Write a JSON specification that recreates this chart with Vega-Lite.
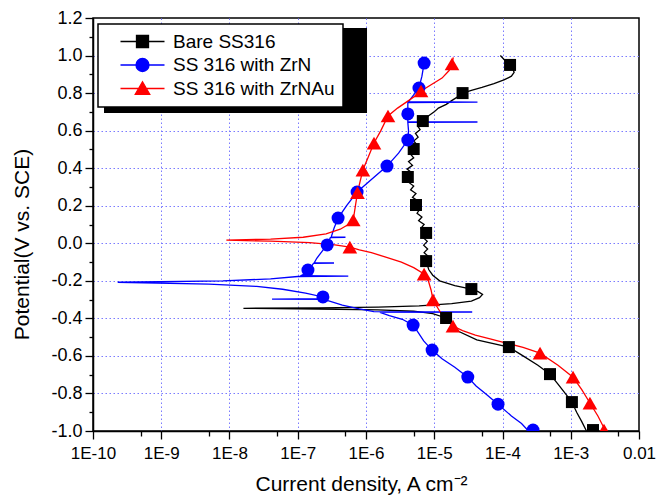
{
  "$schema": "https://vega.github.io/schema/vega-lite/v6.json",
  "width": 546,
  "height": 413,
  "autosize": {"type": "none"},
  "padding": {"left": 93, "top": 18, "right": 31, "bottom": 65},
  "background": "white",
  "config": {
    "view": {"stroke": "black", "strokeWidth": 1.5},
    "font": "Liberation Sans",
    "axis": {
      "domainColor": "black", "domainWidth": 1.5,
      "tickColor": "black", "tickWidth": 1.3,
      "labelFont": "Liberation Sans", "labelFontSize": 17, "labelColor": "black",
      "titleFont": "Liberation Sans", "titleFontSize": 21, "titleFontWeight": "normal", "titleColor": "black",
      "gridColor": "#7b7bff", "gridDash": [1.5, 2.5], "gridWidth": 1,
      "labelOverlap": false, "labelFlush": false
    }
  },
  "resolve": {"axis": {"y": "independent"}},
  "datasets": {
    "curves": [
      {"series": "Bare SS316", "potential": -1.000, "current": 1.70e-3},
      {"series": "Bare SS316", "potential": -0.950, "current": 1.45e-3},
      {"series": "Bare SS316", "potential": -0.900, "current": 1.22e-3},
      {"series": "Bare SS316", "potential": -0.846, "current": 1.04e-3},
      {"series": "Bare SS316", "potential": -0.800, "current": 8.3e-4},
      {"series": "Bare SS316", "potential": -0.750, "current": 6.5e-4},
      {"series": "Bare SS316", "potential": -0.697, "current": 4.97e-4},
      {"series": "Bare SS316", "potential": -0.650, "current": 3.3e-4},
      {"series": "Bare SS316", "potential": -0.600, "current": 2.0e-4},
      {"series": "Bare SS316", "potential": -0.553, "current": 1.24e-4},
      {"series": "Bare SS316", "potential": -0.515, "current": 4.2e-5},
      {"series": "Bare SS316", "potential": -0.470, "current": 2.3e-5},
      {"series": "Bare SS316", "potential": -0.430, "current": 1.8e-5},
      {"series": "Bare SS316", "potential": -0.398, "current": 1.49e-5},
      {"series": "Bare SS316", "potential": -0.375, "current": 9.5e-6},
      {"series": "Bare SS316", "potential": -0.362, "current": 5.0e-6},
      {"series": "Bare SS316", "potential": -0.355, "current": 1.5e-6},
      {"series": "Bare SS316", "potential": -0.350, "current": 2.0e-7},
      {"series": "Bare SS316", "potential": -0.3465, "current": 1.6e-8},
      {"series": "Bare SS316", "potential": -0.344, "current": 2.0e-7},
      {"series": "Bare SS316", "potential": -0.340, "current": 1.5e-6},
      {"series": "Bare SS316", "potential": -0.333, "current": 6.0e-6},
      {"series": "Bare SS316", "potential": -0.322, "current": 1.8e-5},
      {"series": "Bare SS316", "potential": -0.308, "current": 3.5e-5},
      {"series": "Bare SS316", "potential": -0.290, "current": 4.6e-5},
      {"series": "Bare SS316", "potential": -0.272, "current": 5.1e-5},
      {"series": "Bare SS316", "potential": -0.258, "current": 4.4e-5},
      {"series": "Bare SS316", "potential": -0.244, "current": 3.5e-5},
      {"series": "Bare SS316", "potential": -0.225, "current": 2.0e-5},
      {"series": "Bare SS316", "potential": -0.200, "current": 1.2e-5},
      {"series": "Bare SS316", "potential": -0.170, "current": 9.5e-6},
      {"series": "Bare SS316", "potential": -0.140, "current": 8.3e-6},
      {"series": "Bare SS316", "potential": -0.095, "current": 7.6e-6},
      {"series": "Bare SS316", "potential": -0.070, "current": 8.2e-6},
      {"series": "Bare SS316", "potential": -0.050, "current": 7.1e-6},
      {"series": "Bare SS316", "potential": -0.030, "current": 8.0e-6},
      {"series": "Bare SS316", "potential": -0.010, "current": 7.0e-6},
      {"series": "Bare SS316", "potential": 0.010, "current": 7.9e-6},
      {"series": "Bare SS316", "potential": 0.030, "current": 6.9e-6},
      {"series": "Bare SS316", "potential": 0.055, "current": 7.6e-6},
      {"series": "Bare SS316", "potential": 0.080, "current": 6.4e-6},
      {"series": "Bare SS316", "potential": 0.100, "current": 7.1e-6},
      {"series": "Bare SS316", "potential": 0.120, "current": 5.9e-6},
      {"series": "Bare SS316", "potential": 0.140, "current": 6.6e-6},
      {"series": "Bare SS316", "potential": 0.160, "current": 5.6e-6},
      {"series": "Bare SS316", "potential": 0.180, "current": 6.1e-6},
      {"series": "Bare SS316", "potential": 0.204, "current": 5.4e-6},
      {"series": "Bare SS316", "potential": 0.225, "current": 5.8e-6},
      {"series": "Bare SS316", "potential": 0.245, "current": 4.8e-6},
      {"series": "Bare SS316", "potential": 0.265, "current": 5.4e-6},
      {"series": "Bare SS316", "potential": 0.285, "current": 4.5e-6},
      {"series": "Bare SS316", "potential": 0.305, "current": 5.0e-6},
      {"series": "Bare SS316", "potential": 0.325, "current": 4.2e-6},
      {"series": "Bare SS316", "potential": 0.353, "current": 4.1e-6},
      {"series": "Bare SS316", "potential": 0.375, "current": 4.7e-6},
      {"series": "Bare SS316", "potential": 0.395, "current": 4.0e-6},
      {"series": "Bare SS316", "potential": 0.415, "current": 4.8e-6},
      {"series": "Bare SS316", "potential": 0.435, "current": 4.2e-6},
      {"series": "Bare SS316", "potential": 0.455, "current": 5.0e-6},
      {"series": "Bare SS316", "potential": 0.475, "current": 4.5e-6},
      {"series": "Bare SS316", "potential": 0.502, "current": 5.0e-6},
      {"series": "Bare SS316", "potential": 0.525, "current": 5.6e-6},
      {"series": "Bare SS316", "potential": 0.545, "current": 5.0e-6},
      {"series": "Bare SS316", "potential": 0.565, "current": 5.8e-6},
      {"series": "Bare SS316", "potential": 0.585, "current": 5.3e-6},
      {"series": "Bare SS316", "potential": 0.605, "current": 6.2e-6},
      {"series": "Bare SS316", "potential": 0.625, "current": 5.7e-6},
      {"series": "Bare SS316", "potential": 0.651, "current": 6.8e-6},
      {"series": "Bare SS316", "potential": 0.675, "current": 8.0e-6},
      {"series": "Bare SS316", "potential": 0.700, "current": 1.0e-5},
      {"series": "Bare SS316", "potential": 0.720, "current": 1.15e-5},
      {"series": "Bare SS316", "potential": 0.740, "current": 1.5e-5},
      {"series": "Bare SS316", "potential": 0.760, "current": 1.8e-5},
      {"series": "Bare SS316", "potential": 0.780, "current": 2.2e-5},
      {"series": "Bare SS316", "potential": 0.800, "current": 2.6e-5},
      {"series": "Bare SS316", "potential": 0.815, "current": 3.5e-5},
      {"series": "Bare SS316", "potential": 0.830, "current": 5.0e-5},
      {"series": "Bare SS316", "potential": 0.850, "current": 7.5e-5},
      {"series": "Bare SS316", "potential": 0.870, "current": 1.05e-4},
      {"series": "Bare SS316", "potential": 0.890, "current": 1.35e-4},
      {"series": "Bare SS316", "potential": 0.910, "current": 1.48e-4},
      {"series": "Bare SS316", "potential": 0.930, "current": 1.42e-4},
      {"series": "Bare SS316", "potential": 0.950, "current": 1.29e-4},
      {"series": "Bare SS316", "potential": 0.975, "current": 1.08e-4},
      {"series": "Bare SS316", "potential": 1.000, "current": 9.3e-5},

      {"series": "SS 316 with ZrN", "potential": -1.000, "current": 2.4e-4},
      {"series": "SS 316 with ZrN", "potential": -0.960, "current": 1.9e-4},
      {"series": "SS 316 with ZrN", "potential": -0.920, "current": 1.35e-4},
      {"series": "SS 316 with ZrN", "potential": -0.857, "current": 8.6e-5},
      {"series": "SS 316 with ZrN", "potential": -0.800, "current": 5.6e-5},
      {"series": "SS 316 with ZrN", "potential": -0.760, "current": 4.1e-5},
      {"series": "SS 316 with ZrN", "potential": -0.713, "current": 3.1e-5},
      {"series": "SS 316 with ZrN", "potential": -0.660, "current": 2.0e-5},
      {"series": "SS 316 with ZrN", "potential": -0.615, "current": 1.3e-5},
      {"series": "SS 316 with ZrN", "potential": -0.569, "current": 9.3e-6},
      {"series": "SS 316 with ZrN", "potential": -0.520, "current": 7.0e-6},
      {"series": "SS 316 with ZrN", "potential": -0.475, "current": 5.8e-6},
      {"series": "SS 316 with ZrN", "potential": -0.436, "current": 4.9e-6},
      {"series": "SS 316 with ZrN", "potential": -0.405, "current": 3.4e-6},
      {"series": "SS 316 with ZrN", "potential": -0.385, "current": 2.2e-6},
      {"series": "SS 316 with ZrN", "potential": -0.368, "current": 1.6e-6},
      {"series": "SS 316 with ZrN", "potential": -0.366, "current": 3.6e-5},
      {"series": "SS 316 with ZrN", "potential": -0.364, "current": 1.3e-6},
      {"series": "SS 316 with ZrN", "potential": -0.350, "current": 8.0e-7},
      {"series": "SS 316 with ZrN", "potential": -0.330, "current": 4.5e-7},
      {"series": "SS 316 with ZrN", "potential": -0.310, "current": 3.0e-7},
      {"series": "SS 316 with ZrN", "potential": -0.299, "current": 2.4e-7},
      {"series": "SS 316 with ZrN", "potential": -0.297, "current": 4.2e-8},
      {"series": "SS 316 with ZrN", "potential": -0.295, "current": 2.34e-7},
      {"series": "SS 316 with ZrN", "potential": -0.286, "current": 2.34e-7},
      {"series": "SS 316 with ZrN", "potential": -0.265, "current": 1.3e-7},
      {"series": "SS 316 with ZrN", "potential": -0.245, "current": 6.0e-8},
      {"series": "SS 316 with ZrN", "potential": -0.230, "current": 2.5e-8},
      {"series": "SS 316 with ZrN", "potential": -0.218, "current": 5.0e-9},
      {"series": "SS 316 with ZrN", "potential": -0.2075, "current": 2.3e-10},
      {"series": "SS 316 with ZrN", "potential": -0.200, "current": 8.0e-9},
      {"series": "SS 316 with ZrN", "potential": -0.190, "current": 4.0e-8},
      {"series": "SS 316 with ZrN", "potential": -0.177, "current": 1.0e-7},
      {"series": "SS 316 with ZrN", "potential": -0.175, "current": 5.5e-7},
      {"series": "SS 316 with ZrN", "potential": -0.173, "current": 1.1e-7},
      {"series": "SS 316 with ZrN", "potential": -0.160, "current": 1.3e-7},
      {"series": "SS 316 with ZrN", "potential": -0.143, "current": 1.41e-7},
      {"series": "SS 316 with ZrN", "potential": -0.120, "current": 1.6e-7},
      {"series": "SS 316 with ZrN", "potential": -0.107, "current": 1.7e-7},
      {"series": "SS 316 with ZrN", "potential": -0.105, "current": 3.4e-7},
      {"series": "SS 316 with ZrN", "potential": -0.103, "current": 1.75e-7},
      {"series": "SS 316 with ZrN", "potential": -0.080, "current": 1.9e-7},
      {"series": "SS 316 with ZrN", "potential": -0.040, "current": 2.3e-7},
      {"series": "SS 316 with ZrN", "potential": -0.009, "current": 2.7e-7},
      {"series": "SS 316 with ZrN", "potential": 0.030, "current": 3.0e-7},
      {"series": "SS 316 with ZrN", "potential": 0.032, "current": 5.0e-7},
      {"series": "SS 316 with ZrN", "potential": 0.034, "current": 3.1e-7},
      {"series": "SS 316 with ZrN", "potential": 0.080, "current": 3.4e-7},
      {"series": "SS 316 with ZrN", "potential": 0.134, "current": 3.9e-7},
      {"series": "SS 316 with ZrN", "potential": 0.200, "current": 5.2e-7},
      {"series": "SS 316 with ZrN", "potential": 0.273, "current": 7.4e-7},
      {"series": "SS 316 with ZrN", "potential": 0.340, "current": 1.2e-6},
      {"series": "SS 316 with ZrN", "potential": 0.411, "current": 2.03e-6},
      {"series": "SS 316 with ZrN", "potential": 0.480, "current": 3.0e-6},
      {"series": "SS 316 with ZrN", "potential": 0.550, "current": 4.1e-6},
      {"series": "SS 316 with ZrN", "potential": 0.600, "current": 4.2e-6},
      {"series": "SS 316 with ZrN", "potential": 0.644, "current": 4.1e-6},
      {"series": "SS 316 with ZrN", "potential": 0.646, "current": 4.3e-5},
      {"series": "SS 316 with ZrN", "potential": 0.648, "current": 4.1e-6},
      {"series": "SS 316 with ZrN", "potential": 0.689, "current": 4.1e-6},
      {"series": "SS 316 with ZrN", "potential": 0.750, "current": 4.1e-6},
      {"series": "SS 316 with ZrN", "potential": 0.752, "current": 4.3e-5},
      {"series": "SS 316 with ZrN", "potential": 0.754, "current": 4.2e-6},
      {"series": "SS 316 with ZrN", "potential": 0.790, "current": 5.0e-6},
      {"series": "SS 316 with ZrN", "potential": 0.827, "current": 5.97e-6},
      {"series": "SS 316 with ZrN", "potential": 0.890, "current": 6.6e-6},
      {"series": "SS 316 with ZrN", "potential": 0.960, "current": 7.1e-6},

      {"series": "SS 316 with ZrNAu", "potential": -1.000, "current": 3.3e-3},
      {"series": "SS 316 with ZrNAu", "potential": -0.984, "current": 3.07e-3},
      {"series": "SS 316 with ZrNAu", "potential": -0.920, "current": 2.5e-3},
      {"series": "SS 316 with ZrNAu", "potential": -0.851, "current": 1.91e-3},
      {"series": "SS 316 with ZrNAu", "potential": -0.780, "current": 1.45e-3},
      {"series": "SS 316 with ZrNAu", "potential": -0.713, "current": 1.08e-3},
      {"series": "SS 316 with ZrNAu", "potential": -0.650, "current": 6.5e-4},
      {"series": "SS 316 with ZrNAu", "potential": -0.585, "current": 3.55e-4},
      {"series": "SS 316 with ZrNAu", "potential": -0.555, "current": 2.0e-4},
      {"series": "SS 316 with ZrNAu", "potential": -0.530, "current": 1.1e-4},
      {"series": "SS 316 with ZrNAu", "potential": -0.510, "current": 6.8e-5},
      {"series": "SS 316 with ZrNAu", "potential": -0.489, "current": 4.0e-5},
      {"series": "SS 316 with ZrNAu", "potential": -0.465, "current": 2.6e-5},
      {"series": "SS 316 with ZrNAu", "potential": -0.441, "current": 1.88e-5},
      {"series": "SS 316 with ZrNAu", "potential": -0.400, "current": 1.4e-5},
      {"series": "SS 316 with ZrNAu", "potential": -0.350, "current": 1.15e-5},
      {"series": "SS 316 with ZrNAu", "potential": -0.302, "current": 9.6e-6},
      {"series": "SS 316 with ZrNAu", "potential": -0.250, "current": 9.0e-6},
      {"series": "SS 316 with ZrNAu", "potential": -0.200, "current": 8.2e-6},
      {"series": "SS 316 with ZrNAu", "potential": -0.164, "current": 7.1e-6},
      {"series": "SS 316 with ZrNAu", "potential": -0.130, "current": 5.0e-6},
      {"series": "SS 316 with ZrNAu", "potential": -0.100, "current": 3.3e-6},
      {"series": "SS 316 with ZrNAu", "potential": -0.075, "current": 2.0e-6},
      {"series": "SS 316 with ZrNAu", "potential": -0.050, "current": 1.2e-6},
      {"series": "SS 316 with ZrNAu", "potential": -0.035, "current": 8.0e-7},
      {"series": "SS 316 with ZrNAu", "potential": -0.020, "current": 5.8e-7},
      {"series": "SS 316 with ZrNAu", "potential": -0.008, "current": 3.5e-7},
      {"series": "SS 316 with ZrNAu", "potential": 0.003, "current": 1.5e-7},
      {"series": "SS 316 with ZrNAu", "potential": 0.011, "current": 4.0e-8},
      {"series": "SS 316 with ZrNAu", "potential": 0.017, "current": 9.0e-9},
      {"series": "SS 316 with ZrNAu", "potential": 0.022, "current": 4.0e-8},
      {"series": "SS 316 with ZrNAu", "potential": 0.032, "current": 1.2e-7},
      {"series": "SS 316 with ZrNAu", "potential": 0.050, "current": 2.6e-7},
      {"series": "SS 316 with ZrNAu", "potential": 0.075, "current": 4.2e-7},
      {"series": "SS 316 with ZrNAu", "potential": 0.100, "current": 5.5e-7},
      {"series": "SS 316 with ZrNAu", "potential": 0.124, "current": 6.5e-7},
      {"series": "SS 316 with ZrNAu", "potential": 0.200, "current": 7.0e-7},
      {"series": "SS 316 with ZrNAu", "potential": 0.270, "current": 7.5e-7},
      {"series": "SS 316 with ZrNAu", "potential": 0.330, "current": 8.2e-7},
      {"series": "SS 316 with ZrNAu", "potential": 0.390, "current": 9.0e-7},
      {"series": "SS 316 with ZrNAu", "potential": 0.460, "current": 1.08e-6},
      {"series": "SS 316 with ZrNAu", "potential": 0.534, "current": 1.31e-6},
      {"series": "SS 316 with ZrNAu", "potential": 0.600, "current": 1.65e-6},
      {"series": "SS 316 with ZrNAu", "potential": 0.678, "current": 2.1e-6},
      {"series": "SS 316 with ZrNAu", "potential": 0.720, "current": 2.9e-6},
      {"series": "SS 316 with ZrNAu", "potential": 0.760, "current": 4.2e-6},
      {"series": "SS 316 with ZrNAu", "potential": 0.790, "current": 5.5e-6},
      {"series": "SS 316 with ZrNAu", "potential": 0.811, "current": 6.4e-6},
      {"series": "SS 316 with ZrNAu", "potential": 0.850, "current": 9.5e-6},
      {"series": "SS 316 with ZrNAu", "potential": 0.880, "current": 1.3e-5},
      {"series": "SS 316 with ZrNAu", "potential": 0.920, "current": 1.65e-5},
      {"series": "SS 316 with ZrNAu", "potential": 0.955, "current": 1.82e-5},
      {"series": "SS 316 with ZrNAu", "potential": 0.990, "current": 1.9e-5}
    ],
    "markers": [
      {"series": "Bare SS316", "potential": 0.95, "current": 1.29e-4},
      {"series": "Bare SS316", "potential": 0.80, "current": 2.6e-5},
      {"series": "Bare SS316", "potential": 0.651, "current": 6.8e-6},
      {"series": "Bare SS316", "potential": 0.502, "current": 5.0e-6},
      {"series": "Bare SS316", "potential": 0.353, "current": 4.1e-6},
      {"series": "Bare SS316", "potential": 0.204, "current": 5.4e-6},
      {"series": "Bare SS316", "potential": 0.055, "current": 7.6e-6},
      {"series": "Bare SS316", "potential": -0.095, "current": 7.6e-6},
      {"series": "Bare SS316", "potential": -0.244, "current": 3.5e-5},
      {"series": "Bare SS316", "potential": -0.398, "current": 1.49e-5},
      {"series": "Bare SS316", "potential": -0.553, "current": 1.24e-4},
      {"series": "Bare SS316", "potential": -0.697, "current": 4.97e-4},
      {"series": "Bare SS316", "potential": -0.846, "current": 1.04e-3},
      {"series": "Bare SS316", "potential": -0.995, "current": 2.12e-3},
      {"series": "SS 316 with ZrN", "potential": 0.96, "current": 7.1e-6},
      {"series": "SS 316 with ZrN", "potential": 0.827, "current": 5.97e-6},
      {"series": "SS 316 with ZrN", "potential": 0.689, "current": 4.1e-6},
      {"series": "SS 316 with ZrN", "potential": 0.55, "current": 4.1e-6},
      {"series": "SS 316 with ZrN", "potential": 0.411, "current": 2.03e-6},
      {"series": "SS 316 with ZrN", "potential": 0.273, "current": 7.4e-7},
      {"series": "SS 316 with ZrN", "potential": 0.134, "current": 3.9e-7},
      {"series": "SS 316 with ZrN", "potential": -0.009, "current": 2.7e-7},
      {"series": "SS 316 with ZrN", "potential": -0.143, "current": 1.41e-7},
      {"series": "SS 316 with ZrN", "potential": -0.286, "current": 2.34e-7},
      {"series": "SS 316 with ZrN", "potential": -0.436, "current": 4.9e-6},
      {"series": "SS 316 with ZrN", "potential": -0.569, "current": 9.3e-6},
      {"series": "SS 316 with ZrN", "potential": -0.713, "current": 3.1e-5},
      {"series": "SS 316 with ZrN", "potential": -0.857, "current": 8.6e-5},
      {"series": "SS 316 with ZrN", "potential": -0.995, "current": 2.8e-4},
      {"series": "SS 316 with ZrNAu", "potential": 0.955, "current": 1.82e-5},
      {"series": "SS 316 with ZrNAu", "potential": 0.811, "current": 6.4e-6},
      {"series": "SS 316 with ZrNAu", "potential": 0.678, "current": 2.1e-6},
      {"series": "SS 316 with ZrNAu", "potential": 0.534, "current": 1.31e-6},
      {"series": "SS 316 with ZrNAu", "potential": 0.39, "current": 9.0e-7},
      {"series": "SS 316 with ZrNAu", "potential": 0.27, "current": 7.5e-7},
      {"series": "SS 316 with ZrNAu", "potential": 0.124, "current": 6.5e-7},
      {"series": "SS 316 with ZrNAu", "potential": -0.02, "current": 5.8e-7},
      {"series": "SS 316 with ZrNAu", "potential": -0.164, "current": 7.1e-6},
      {"series": "SS 316 with ZrNAu", "potential": -0.302, "current": 9.6e-6},
      {"series": "SS 316 with ZrNAu", "potential": -0.441, "current": 1.88e-5},
      {"series": "SS 316 with ZrNAu", "potential": -0.585, "current": 3.55e-4},
      {"series": "SS 316 with ZrNAu", "potential": -0.713, "current": 1.08e-3},
      {"series": "SS 316 with ZrNAu", "potential": -0.851, "current": 1.91e-3},
      {"series": "SS 316 with ZrNAu", "potential": -0.995, "current": 3.07e-3}
    ]
  },
  "layer": [
    {
      "data": {"values": [{"item": "legend shadow"}]},
      "mark": {"type": "rect", "color": "black"},
      "encoding": {
        "x": {"datum": 1.45e-10, "type": "quantitative", "scale": {"type": "log", "domain": [1e-10, 0.01], "nice": false}},
        "x2": {"datum": 1.035e-6},
        "y": {"datum": 1.147, "type": "quantitative", "scale": {"domain": [-1.0, 1.2], "nice": false, "zero": false}, "axis": null},
        "y2": {"datum": 0.694}
      }
    },
    {
      "data": {"values": [{"item": "minor ticks"}]},
      "mark": {"type": "point", "opacity": 0},
      "encoding": {
        "y": {"datum": 0, "type": "quantitative",
          "axis": {
            "orient": "left", "title": null, "labels": false, "grid": false, "domain": false,
            "values": [-0.9, -0.7, -0.5, -0.3, -0.1, 0.1, 0.3, 0.5, 0.7, 0.9, 1.1],
            "tickSize": 4
          }
        }
      }
    },
    {
      "data": {"name": "curves"},
      "mark": {"type": "line", "strokeWidth": 1.3, "clip": true},
      "encoding": {
        "x": {
          "field": "current", "type": "quantitative",
          "scale": {"type": "log", "domain": [1e-10, 0.01], "nice": false},
          "axis": {
            "title": "Current density, A cm\u207b\u00b2",
            "values": [1e-10, 5e-10, 1e-9, 5e-9, 1e-8, 5e-8, 1e-7, 5e-7, 1e-6, 5e-6, 1e-5, 5e-5, 1e-4, 5e-4, 1e-3, 5e-3, 1e-2],
            "labelExpr": "abs(log(datum.value)/LN10 - round(log(datum.value)/LN10)) > 0.01 ? '' : (round(log(datum.value)/LN10) == -2 ? '0.01' : '1E' + round(log(datum.value)/LN10))",
            "tickSize": {"condition": {"test": "abs(log(datum.value)/LN10 - round(log(datum.value)/LN10)) > 0.01", "value": 5}, "value": 8},
            "gridOpacity": {"condition": {"test": "abs(log(datum.value)/LN10 - round(log(datum.value)/LN10)) > 0.01 || datum.value < 2e-10 || datum.value > 0.005", "value": 0}, "value": 1},
            "grid": true,
            "labelOverlap": false,
            "labelFlush": false,
            "labelPadding": 6,
            "titlePadding": 12,
            "titleX": 268
          }
        },
        "y": {
          "field": "potential", "type": "quantitative",
          "scale": {"domain": [-1.0, 1.2], "nice": false, "zero": false},
          "axis": {
            "orient": "left",
            "title": "Potential(V vs. SCE)",
            "values": [-1.0, -0.8, -0.6, -0.4, -0.2, 0.0, 0.2, 0.4, 0.6, 0.8, 1.0, 1.2],
            "labelExpr": "replace(format(datum.value, '.1f'), '\u2212', '-')",
            "labelFontSize": 18,
            "tickSize": 8,
            "gridOpacity": {"condition": {"test": "datum.value < -0.95 || datum.value > 1.15", "value": 0}, "value": 1},
            "grid": true,
            "labelOverlap": false,
            "labelFlush": false,
            "labelPadding": 3,
            "titlePadding": 18,
            "titleY": 226
          }
        },
        "color": {
          "field": "series", "type": "nominal",
          "scale": {"domain": ["Bare SS316", "SS 316 with ZrN", "SS 316 with ZrNAu"], "range": ["#000000", "#0000ff", "#ff0000"]},
          "legend": {
            "title": null,
            "orient": "none", "legendX": 5, "legendY": 6,
            "fillColor": "white", "strokeColor": "black",
            "padding": 8,
            "labelFont": "Liberation Sans", "labelFontSize": 19, "labelColor": "black", "labelLimit": 400,
            "labelExpr": "datum.label + '\u00a0\u00a0'",
            "symbolSize": 100, "symbolOffset": 27, "labelOffset": 21, "rowPadding": 3.5,
            "symbolStrokeWidth": 1.3,
            "encode": {
              "legend": {"update": {"strokeWidth": {"value": 1.5}}},
              "symbols": {"update": {
                "shape": {"signal": "datum.value == 'Bare SS316' ? 'M-4.4,0H4.4M-1.2,-1.2H1.2V1.2H-1.2Z' : (datum.value == 'SS 316 with ZrN' ? 'M-4.4,0H4.4M1.3,0A1.3,1.3,0,1,1,-1.3,0A1.3,1.3,0,1,1,1.3,0Z' : 'M-4.4,0H4.4M0,-1.35L1.45,1.15H-1.45Z')"},
                "fill": {"signal": "scale('color', datum.value)"},
                "stroke": {"signal": "scale('color', datum.value)"},
                "size": {"value": 100},
                "opacity": {"value": 1}
              }}
            }
          }
        },
        "order": {"field": "potential", "type": "quantitative"}
      }
    },
    {
      "data": {"name": "markers"},
      "transform": [{"filter": "datum.series == 'Bare SS316'"}],
      "mark": {"type": "point", "shape": "square", "size": 144, "filled": true, "opacity": 1, "clip": true},
      "encoding": {
        "x": {"field": "current", "type": "quantitative"},
        "y": {"field": "potential", "type": "quantitative", "axis": null},
        "color": {"field": "series", "type": "nominal"}
      }
    },
    {
      "data": {"name": "markers"},
      "transform": [{"filter": "datum.series == 'SS 316 with ZrN'"}],
      "mark": {"type": "point", "shape": "circle", "size": 169, "filled": true, "opacity": 1, "clip": true},
      "encoding": {
        "x": {"field": "current", "type": "quantitative"},
        "y": {"field": "potential", "type": "quantitative", "axis": null},
        "color": {"field": "series", "type": "nominal"}
      }
    },
    {
      "data": {"name": "markers"},
      "transform": [{"filter": "datum.series == 'SS 316 with ZrNAu'"}],
      "mark": {"type": "point", "shape": "triangle-up", "size": 215, "filled": true, "opacity": 1, "clip": true},
      "encoding": {
        "x": {"field": "current", "type": "quantitative"},
        "y": {"field": "potential", "type": "quantitative", "axis": null},
        "color": {"field": "series", "type": "nominal"}
      }
    }
  ]
}
